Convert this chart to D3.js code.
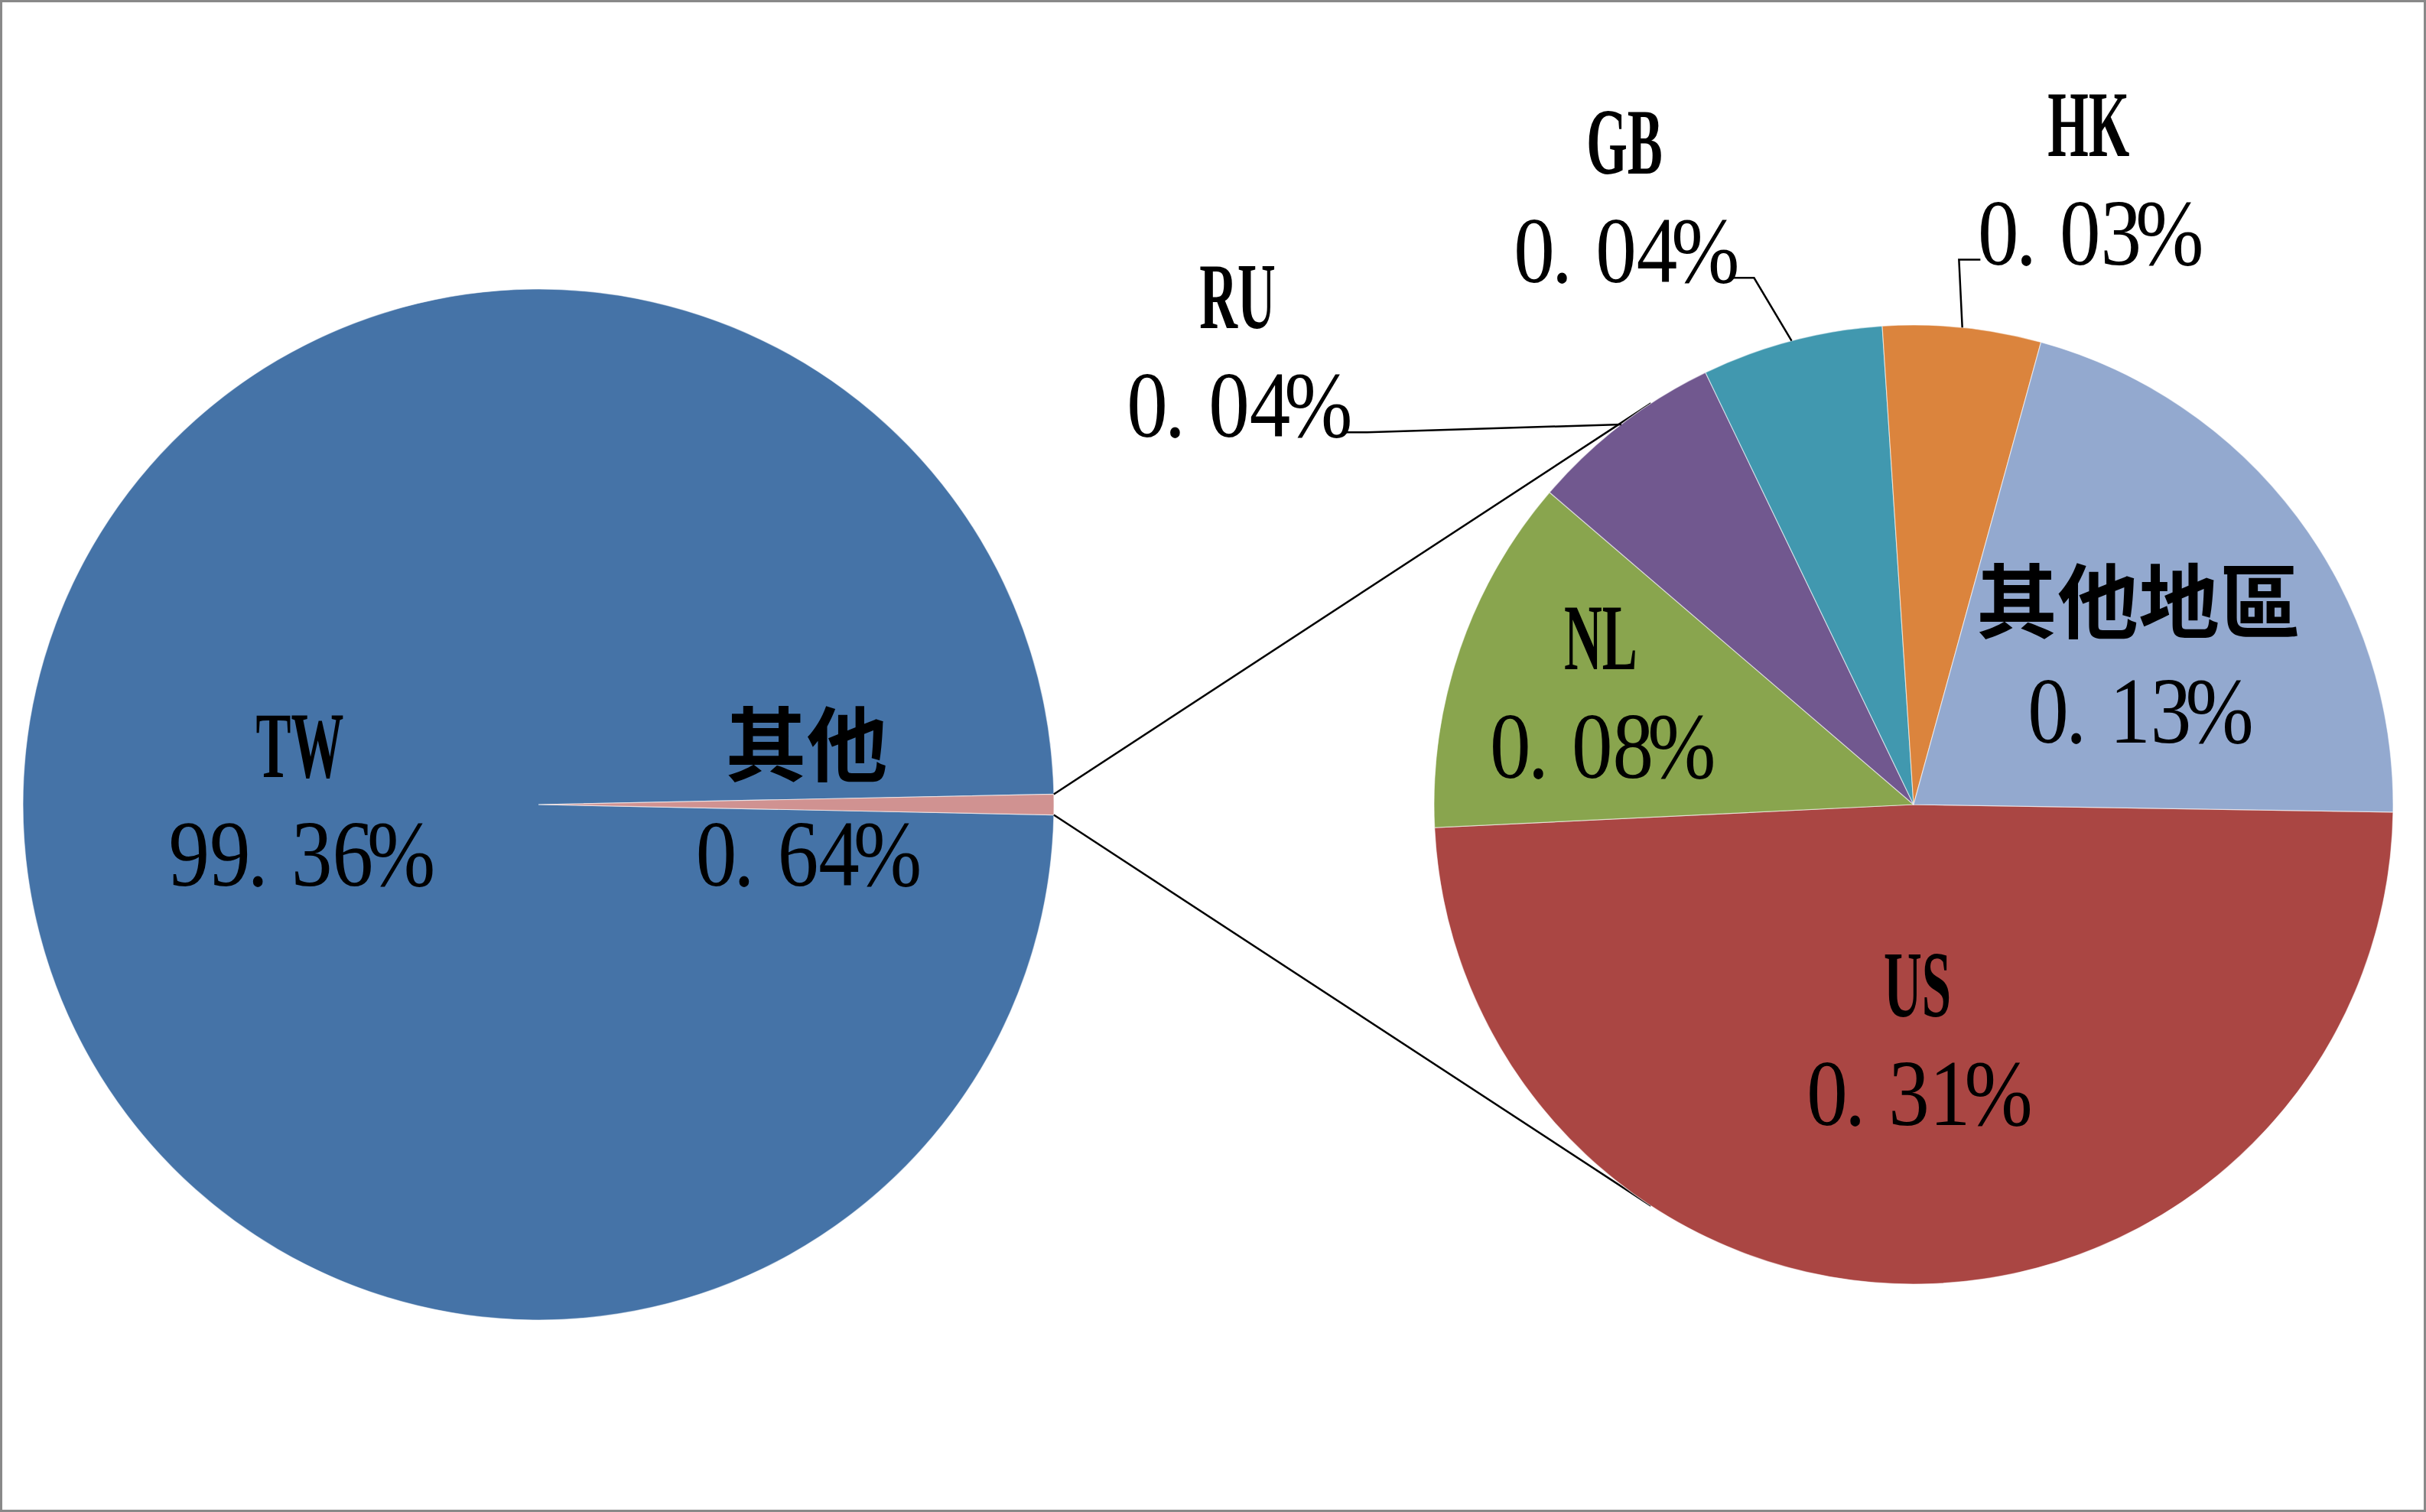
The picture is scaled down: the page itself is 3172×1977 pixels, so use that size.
<!DOCTYPE html>
<html>
<head>
<meta charset="utf-8">
<script src="https://cdn.jsdelivr.net/npm/d3@7"></script>
<style>
  html, body { margin: 0; padding: 0; background: #fff; }
  svg { display: block; }
</style>
</head>
<body>
<svg id="chart" width="3172" height="1977"></svg>
<script>
// ---------------- DATA ----------------
const mainCategories = ["TW", "其他"];
const mainValues = [99.36, 0.64];

const subCategories = ["US", "NL", "RU", "GB", "HK", "其他地區"];
const subValues = [0.313, 0.077, 0.042, 0.039, 0.034, 0.134];

// ---------------- STYLE / LAYOUT ----------------
const mainColors = ["#4573A7", "#D09291"];
const subColors = ["#AA4643", "#89A54E", "#71588F", "#4198AF", "#DB843D", "#93A9CF"];

const W = 3172, H = 1977;
const leftPie = { cx: 704, cy: 1052, r: 674 };
const rightPie = { cx: 2502, cy: 1052, r: 627 };
const subStartDeg = 90.9;

// inside labels: fraction of radius along mid-angle (f) or offset in radius units (pos);
// outside labels (out) get a leader line
const mainLabelLayout = [{ f: 0.463 }, { f: 0.52 }];
const subLabelLayout = [
  { f: 0.50 },
  { f: 0.69 },
  { out: [-1.410, -0.935] },
  { out: [-0.603, -1.257] },
  { out: [0.365, -1.295] },
  { pos: [0.469, -0.298] }
];

const LATIN_FONT = "'Liberation Serif', 'Times New Roman', serif";
const CJK_FONT = "'Noto Sans CJK TC', 'Noto Sans CJK SC', sans-serif";

const svg = d3.select("#chart");
svg.append("rect").attr("x", 0).attr("y", 0).attr("width", W).attr("height", H).attr("fill", "#fff");

const isCJK = s => /[\u3400-\u9fff]/.test(s);

// label block: name line + percent line, centred on (x, y)
function drawLabel(g, x, y, name, pct) {
  const nameCenter = y - 78, pctCenter = y + 64;
  if (isCJK(name)) {
    g.append("text")
      .attr("x", x).attr("y", nameCenter + 39)
      .attr("text-anchor", "middle")
      .style("font-family", CJK_FONT).style("font-weight", 700)
      .style("font-size", "106px").attr("fill", "#000")
      .text(name);
  } else {
    const sx = 0.56;
    g.append("text")
      .attr("transform", `translate(${x},${nameCenter + 41.5}) scale(${sx},1)`)
      .attr("x", 0).attr("y", 0)
      .attr("text-anchor", "middle")
      .style("font-family", LATIN_FONT).style("font-weight", 700)
      .style("font-size", "123px").attr("fill", "#000")
      .text(name);
  }
  const cell = 53.5, sx = 0.87, shift = -11;
  const chars = [...pct];
  const n = chars.length;
  const xs = chars.map((ch, i) => {
    let c = (i - (n - 1) / 2) * cell + shift;
    if (ch === ".") c -= 17;
    if (ch === "%") c += 10;
    return (c / sx).toFixed(2);
  });
  g.append("text")
    .attr("transform", `translate(${x},${pctCenter + 41.5}) scale(${sx},1)`)
    .attr("x", xs.join(" ")).attr("y", 0)
    .attr("text-anchor", "middle")
    .style("font-family", LATIN_FONT)
    .style("font-size", "123px").attr("fill", "#000")
    .text(pct);
  return { pctBaseline: pctCenter + 41.5, halfWidth: n * 55 / 2 };
}

const fmt = v => v.toFixed(2) + "%";

// ---------------- LEFT PIE ----------------
const otherMain = mainValues[1] / d3.sum(mainValues) * 2 * Math.PI;
const mainStart = Math.PI / 2 + otherMain / 2;
const mainPie = d3.pie().sort(null).startAngle(mainStart).endAngle(mainStart + 2 * Math.PI);
const mainArcs = mainPie(mainValues);
const arcL = d3.arc().innerRadius(0).outerRadius(leftPie.r);

const gL = svg.append("g").attr("transform", `translate(${leftPie.cx},${leftPie.cy})`);
gL.selectAll("path").data(mainArcs).join("path")
  .attr("d", arcL)
  .attr("fill", (d, i) => mainColors[i])
  .attr("stroke", "rgba(255,255,255,0.55)").attr("stroke-width", 1.2);

mainArcs.forEach((d, i) => {
  const f = mainLabelLayout[i].f * leftPie.r;
  const c = d3.arc().innerRadius(f).outerRadius(f).centroid(d);
  drawLabel(gL, c[0], c[1], mainCategories[i], fmt(mainValues[i]));
});

// ---------------- RIGHT PIE ----------------
const s0 = subStartDeg * Math.PI / 180;
const subPie = d3.pie().sort(null).startAngle(s0).endAngle(s0 + 2 * Math.PI);
const subArcs = subPie(subValues);
const arcR = d3.arc().innerRadius(0).outerRadius(rightPie.r);

// connector tangent lines
const otherArc = mainArcs[1];
const edgePts = [otherArc.startAngle, otherArc.endAngle].map(a => [
  leftPie.cx + leftPie.r * Math.sin(a),
  leftPie.cy - leftPie.r * Math.cos(a)
]);
edgePts.sort((a, b) => a[1] - b[1]); // upper first
edgePts.forEach((p, k) => {
  const dx = p[0] - rightPie.cx, dy = p[1] - rightPie.cy;
  const d = Math.hypot(dx, dy);
  const phi = Math.atan2(dy, dx);
  const alpha = Math.acos(rightPie.r / d);
  const t = k === 0 ? phi + alpha : phi - alpha;
  const q = [rightPie.cx + rightPie.r * Math.cos(t), rightPie.cy + rightPie.r * Math.sin(t)];
  svg.append("line")
    .attr("x1", p[0]).attr("y1", p[1]).attr("x2", q[0]).attr("y2", q[1])
    .attr("stroke", "#000").attr("stroke-width", 2.5);
});

const gR = svg.append("g").attr("transform", `translate(${rightPie.cx},${rightPie.cy})`);
gR.selectAll("path").data(subArcs).join("path")
  .attr("d", arcR)
  .attr("fill", (d, i) => subColors[i])
  .attr("stroke", "rgba(255,255,255,0.55)").attr("stroke-width", 1.2);

subArcs.forEach((d, i) => {
  const lay = subLabelLayout[i];
  const label = fmt(subValues[i]);
  if (lay.out) {
    const lx = lay.out[0] * rightPie.r, ly = lay.out[1] * rightPie.r;
    const info = drawLabel(gR, lx, ly, subCategories[i], label);
    const mid = (d.startAngle + d.endAngle) / 2;
    const ax = rightPie.r * Math.sin(mid), ay = -rightPie.r * Math.cos(mid);
    const side = ax > lx ? 1 : -1;
    const sxp = lx + side * (info.halfWidth + 4);
    const syp = info.pctBaseline - 6;
    const ex = sxp + side * 28;
    gR.append("path")
      .attr("d", `M${sxp},${syp}L${ex},${syp}L${ax},${ay}`)
      .attr("fill", "none").attr("stroke", "#000").attr("stroke-width", 2.5);
  } else if (lay.pos) {
    drawLabel(gR, lay.pos[0] * rightPie.r, lay.pos[1] * rightPie.r, subCategories[i], label);
  } else {
    const f = lay.f * rightPie.r;
    const c = d3.arc().innerRadius(f).outerRadius(f).centroid(d);
    drawLabel(gR, c[0], c[1], subCategories[i], label);
  }
});

// chart frame
svg.append("rect").attr("x", 1.5).attr("y", 1.5).attr("width", W - 3).attr("height", H - 3)
  .attr("fill", "none").attr("stroke", "#898989").attr("stroke-width", 3);
</script>
</body>
</html>
